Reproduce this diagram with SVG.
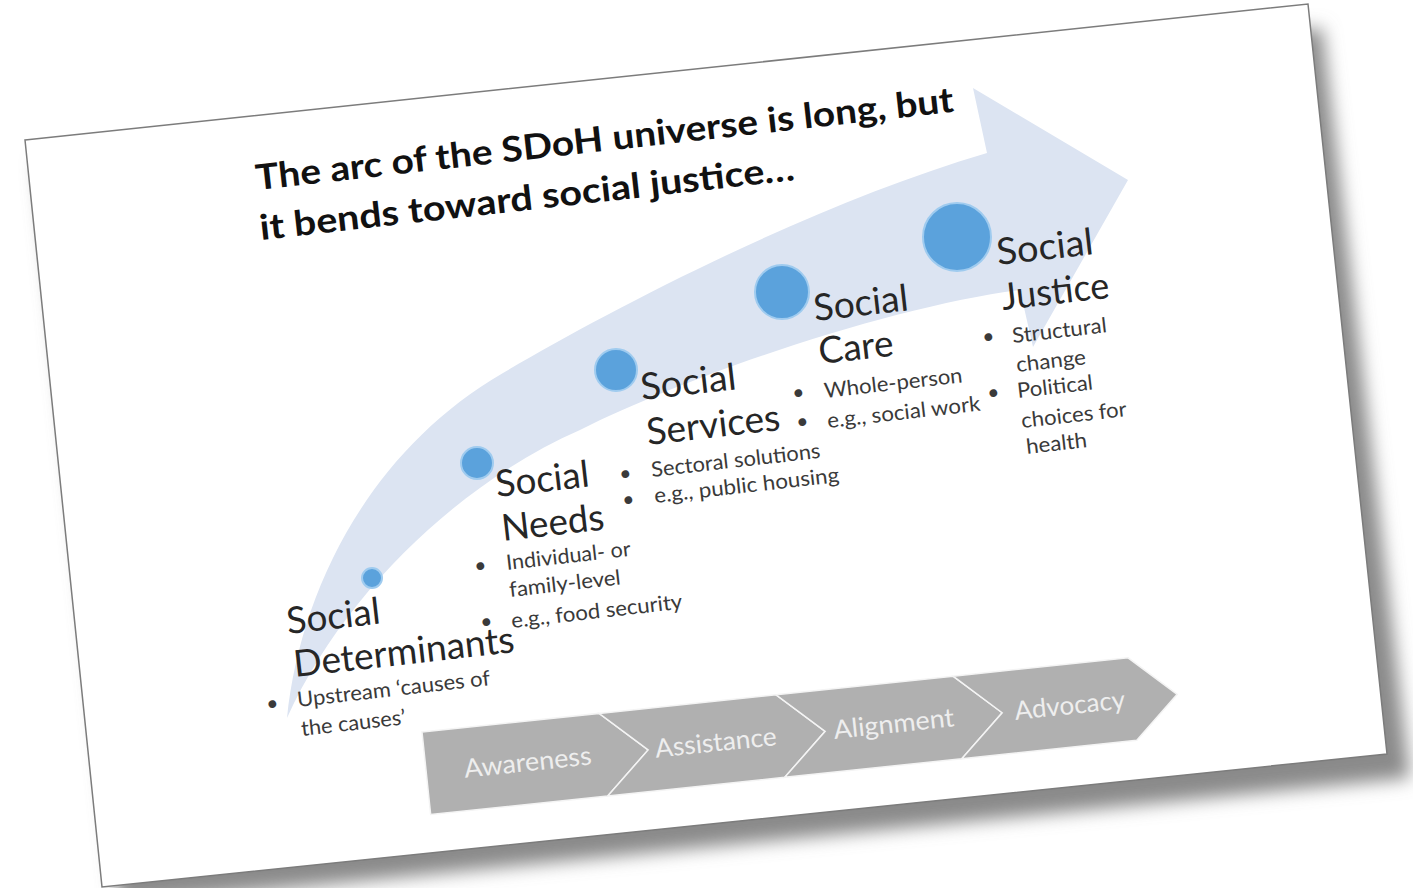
<svg xmlns="http://www.w3.org/2000/svg" width="1413" height="888" viewBox="0 0 1413 888">
<defs>
<filter id="sh" x="-10%" y="-10%" width="120%" height="130%"><feGaussianBlur stdDeviation="9"/></filter>
<style>
.title{font-family:Lato,"Liberation Sans",sans-serif;font-weight:bold;font-size:35px;fill:#111}
.lbl{font-family:Lato,"Liberation Sans",sans-serif;font-size:37px;fill:#262626}
.sub{font-family:Lato,"Liberation Sans",sans-serif;font-size:21px;fill:#3a3a3a}
.chev{fill:#b0b0b0;stroke:#f4f4f4;stroke-width:1.5}
.ctxt{font-family:Lato,"Liberation Sans",sans-serif;font-size:26px;fill:#eeeeee;text-anchor:middle}
.dot{fill:#5ba2dc;stroke:#9fcbef;stroke-width:2}
</style>
</defs>
<rect width="1413" height="888" fill="#ffffff"/>
<g id="slide">
<polygon points="38,162 1322,28 1410,778 118,905" fill="#8a8a8a" filter="url(#sh)"/>
<polygon points="25,140 1308,4 1387,754 102,887" fill="#ffffff" stroke="#7c7c7c" stroke-width="1.5"/>
</g>
<g id="arc-arrow">
<path d="M287,718 C300,590 370,450 503,373 C610,310 810,205 987,153 L973,88 L1128,180 L1033,347 L1020,290 C900,305 700,370 580,430 C465,480 345,590 287,718 Z" fill="#dce4f2"/>
</g>
<g id="title">
<text class="title" transform="translate(257,190) rotate(-6.4)" textLength="702" lengthAdjust="spacingAndGlyphs">The arc of the SDoH universe is long, but</text>
<text class="title" transform="translate(261,240) rotate(-6.4)" textLength="538" lengthAdjust="spacingAndGlyphs">it bends toward social justice…</text>
</g>
<g id="social-determinants">
<circle class="dot" cx="372" cy="578" r="10"/>
<text class="lbl" transform="translate(288,634) rotate(-6.5)" textLength="94" lengthAdjust="spacingAndGlyphs">Social</text>
<text class="lbl" transform="translate(295,677) rotate(-6.5)" textLength="222" lengthAdjust="spacingAndGlyphs">Determinants</text>
<text class="sub" transform="translate(267,711) rotate(-6.5)">•</text>
<text class="sub" transform="translate(298,707) rotate(-6.5)" textLength="194" lengthAdjust="spacingAndGlyphs">Upstream ‘causes of</text>
<text class="sub" transform="translate(302,736) rotate(-6.5)" textLength="105" lengthAdjust="spacingAndGlyphs">the causes’</text>
</g>
<g id="social-needs">
<circle class="dot" cx="477" cy="463" r="16"/>
<text class="lbl" transform="translate(497,497) rotate(-6.5)" textLength="94" lengthAdjust="spacingAndGlyphs">Social</text>
<text class="lbl" transform="translate(503,541) rotate(-6.5)" textLength="103" lengthAdjust="spacingAndGlyphs">Needs</text>
<text class="sub" transform="translate(475,573) rotate(-6.5)">•</text>
<text class="sub" transform="translate(507,570) rotate(-6.5)" textLength="125" lengthAdjust="spacingAndGlyphs">Individual- or</text>
<text class="sub" transform="translate(510,597) rotate(-6.5)" textLength="112" lengthAdjust="spacingAndGlyphs">family-level</text>
<text class="sub" transform="translate(481,629) rotate(-6.5)">•</text>
<text class="sub" transform="translate(512,628) rotate(-6.5)" textLength="172" lengthAdjust="spacingAndGlyphs">e.g., food security</text>
</g>
<g id="social-services">
<circle class="dot" cx="616" cy="370" r="21"/>
<text class="lbl" transform="translate(642,400) rotate(-6.5)" textLength="96" lengthAdjust="spacingAndGlyphs">Social</text>
<text class="lbl" transform="translate(648,445) rotate(-6.5)" textLength="134" lengthAdjust="spacingAndGlyphs">Services</text>
<text class="sub" transform="translate(620,481) rotate(-6.5)">•</text>
<text class="sub" transform="translate(652,477) rotate(-6.5)" textLength="170" lengthAdjust="spacingAndGlyphs">Sectoral solutions</text>
<text class="sub" transform="translate(623,507) rotate(-6.5)">•</text>
<text class="sub" transform="translate(655,503) rotate(-6.5)" textLength="186" lengthAdjust="spacingAndGlyphs">e.g., public housing</text>
</g>
<g id="social-care">
<circle class="dot" cx="782" cy="292" r="27"/>
<text class="lbl" transform="translate(815,321) rotate(-6.5)" textLength="95" lengthAdjust="spacingAndGlyphs">Social</text>
<text class="lbl" transform="translate(820,364) rotate(-6.5)" textLength="75" lengthAdjust="spacingAndGlyphs">Care</text>
<text class="sub" transform="translate(793,400) rotate(-6.5)">•</text>
<text class="sub" transform="translate(825,398) rotate(-6.5)" textLength="139" lengthAdjust="spacingAndGlyphs">Whole-person</text>
<text class="sub" transform="translate(797,429) rotate(-6.5)">•</text>
<text class="sub" transform="translate(828,428) rotate(-6.5)" textLength="154" lengthAdjust="spacingAndGlyphs">e.g., social work</text>
</g>
<g id="social-justice">
<circle class="dot" cx="957" cy="237" r="34"/>
<text class="lbl" transform="translate(998,265) rotate(-6.5)" textLength="97" lengthAdjust="spacingAndGlyphs">Social</text>
<text class="lbl" transform="translate(1003,310) rotate(-6.5)" textLength="108" lengthAdjust="spacingAndGlyphs">Justice</text>
<text class="sub" transform="translate(983,344) rotate(-6.5)">•</text>
<text class="sub" transform="translate(1013,343) rotate(-6.5)" textLength="95" lengthAdjust="spacingAndGlyphs">Structural</text>
<text class="sub" transform="translate(1017,372) rotate(-6.5)" textLength="70" lengthAdjust="spacingAndGlyphs">change</text>
<text class="sub" transform="translate(988,400) rotate(-6.5)">•</text>
<text class="sub" transform="translate(1018,398) rotate(-6.5)" textLength="76" lengthAdjust="spacingAndGlyphs">Political</text>
<text class="sub" transform="translate(1022,428) rotate(-6.5)" textLength="106" lengthAdjust="spacingAndGlyphs">choices for</text>
<text class="sub" transform="translate(1027,454) rotate(-6.5)" textLength="61" lengthAdjust="spacingAndGlyphs">health</text>
</g>
<g id="process-bar" transform="translate(422,732) rotate(-6)">
<g id="awareness">
<polygon class="chev" points="0,0 178,0 223,41.5 178,83 0,83"/>
<text class="ctxt" x="102" y="50" textLength="128" lengthAdjust="spacingAndGlyphs">Awareness</text>
</g>
<g id="assistance">
<polygon class="chev" points="178,0 356,0 401,41.5 356,83 178,83 223,41.5"/>
<text class="ctxt" x="291" y="50" textLength="122" lengthAdjust="spacingAndGlyphs">Assistance</text>
</g>
<g id="alignment">
<polygon class="chev" points="356,0 534,0 579,41.5 534,83 356,83 401,41.5"/>
<text class="ctxt" x="470" y="50" textLength="121" lengthAdjust="spacingAndGlyphs">Alignment</text>
</g>
<g id="advocacy">
<polygon class="chev" points="534,0 710,0 755,41.5 710,83 534,83 579,41.5"/>
<text class="ctxt" x="647" y="50" textLength="111" lengthAdjust="spacingAndGlyphs">Advocacy</text>
</g>
</g>
</svg>
